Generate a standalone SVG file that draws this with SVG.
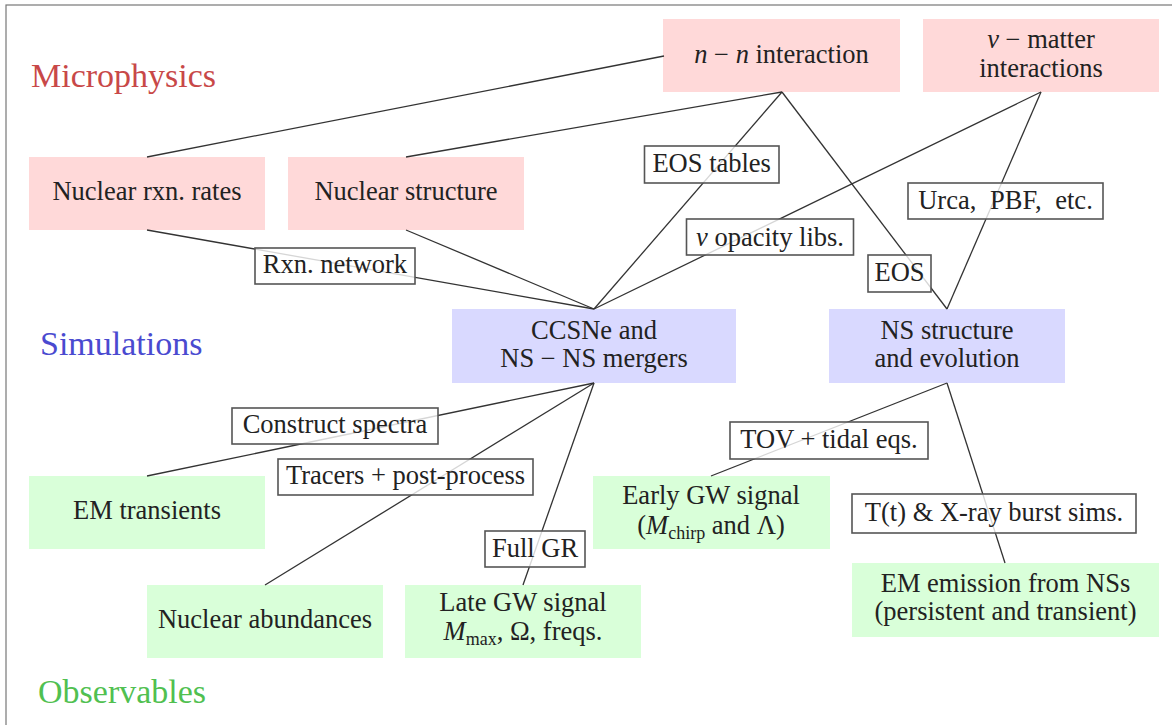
<svg xmlns="http://www.w3.org/2000/svg" width="1172" height="725" viewBox="0 0 1172 725">
<style>
text{font-size:26.5px;fill:#222;}
.t{text-anchor:middle;}
.title{font-size:34px;}
.pink{fill:#ffd9d9;}
.blue{fill:#d9d9ff;}
.green{fill:#d9ffd9;}
.lab rect{fill:#fff;fill-opacity:0.8;stroke:#555;stroke-width:1.6;}
.conn line{stroke:#333;stroke-width:1.3;}
.i{font-style:italic;}
.sub{font-size:18px;}
</style>
<g font-family="'Liberation Serif', 'DejaVu Serif', serif">
<rect x="6" y="5" width="1300" height="900" fill="#fff" stroke="#777" stroke-width="1.2"/>
<text x="31" y="87" class="title" style="fill:#c84848">Microphysics</text>
<text x="40" y="355" class="title" style="fill:#4a4ad0">Simulations</text>
<text x="38" y="703" class="title" style="fill:#50c050">Observables</text>

<g id="n-n"><rect class="pink" x="663" y="19" width="237" height="73"/><text class="t" x="781.5" y="63"><tspan class="i">n</tspan> − <tspan class="i">n</tspan> interaction</text></g>
<g id="nu-matter"><rect class="pink" x="923" y="19" width="236" height="73"/><text class="t" x="1041" y="48"><tspan class="i">ν</tspan> − matter</text><text class="t" x="1041" y="77">interactions</text></g>
<g id="rxn-rates"><rect class="pink" x="29" y="157" width="236" height="73"/><text class="t" x="147" y="200">Nuclear rxn. rates</text></g>
<g id="nuc-structure"><rect class="pink" x="288" y="157" width="236" height="73"/><text class="t" x="406" y="200">Nuclear structure</text></g>
<g id="ccsne"><rect class="blue" x="452" y="309" width="284" height="74"/><text class="t" x="594" y="339">CCSNe and</text><text class="t" x="594" y="367">NS − NS mergers</text></g>
<g id="ns-structure"><rect class="blue" x="829" y="309" width="236" height="74"/><text class="t" x="947" y="339">NS structure</text><text class="t" x="947" y="367">and evolution</text></g>
<g id="em-transients"><rect class="green" x="29" y="476" width="236" height="73"/><text class="t" x="147" y="519">EM transients</text></g>
<g id="nuc-abund"><rect class="green" x="147" y="585" width="236" height="73"/><text class="t" x="265" y="628">Nuclear abundances</text></g>
<g id="late-gw"><rect class="green" x="405" y="585" width="236" height="73"/><text class="t" x="523" y="611">Late GW signal</text><text class="t" x="523" y="640"><tspan class="i">M</tspan><tspan class="sub" baseline-shift="-5">max</tspan>, Ω, freqs.</text></g>
<g id="early-gw"><rect class="green" x="593" y="476" width="237" height="73"/><text class="t" x="711" y="504">Early GW signal</text><text class="t" x="711" y="534">(<tspan class="i">M</tspan><tspan class="sub" baseline-shift="-5">chirp</tspan> and Λ)</text></g>
<g id="em-emission"><rect class="green" x="852" y="563" width="307" height="74"/><text class="t" x="1005.5" y="592">EM emission from NSs</text><text class="t" x="1005.5" y="620">(persistent and transient)</text></g>

<g id="connectors" class="conn">
<line x1="664" y1="56" x2="147" y2="157"/>
<line x1="782" y1="92" x2="406" y2="157"/>
<line x1="782" y1="92" x2="594" y2="309"/>
<line x1="782" y1="92" x2="947" y2="309"/>
<line x1="1041" y1="92" x2="594" y2="309"/>
<line x1="1041" y1="92" x2="947" y2="309"/>
<line x1="147" y1="230" x2="594" y2="309"/>
<line x1="406" y1="230" x2="594" y2="309"/>
<line x1="594" y1="383" x2="147" y2="476"/>
<line x1="594" y1="383" x2="265" y2="585"/>
<line x1="594" y1="383" x2="523" y2="585"/>
<line x1="947" y1="383" x2="711" y2="476"/>
<line x1="947" y1="383" x2="1005" y2="563"/>
</g>

<g id="labels" class="lab">
<g id="lab-eos-tables"><rect x="644.5" y="146" width="134.5" height="37"/><text class="t" x="711.7" y="172">EOS tables</text></g>
<g id="lab-opacity"><rect x="686.5" y="219" width="167" height="36"/><text class="t" x="770" y="246"><tspan class="i">ν</tspan> opacity libs.</text></g>
<g id="lab-urca"><rect x="908" y="183" width="195" height="36"/><text class="t" x="1005.5" y="209" word-spacing="7">Urca, PBF, etc.</text></g>
<g id="lab-eos"><rect x="868" y="255" width="63" height="37"/><text class="t" x="899.5" y="281">EOS</text></g>
<g id="lab-rxn"><rect x="255" y="248" width="160" height="36"/><text class="t" x="335" y="273">Rxn. network</text></g>
<g id="lab-spectra"><rect x="232" y="408" width="206" height="36"/><text class="t" x="335" y="433">Construct spectra</text></g>
<g id="lab-tracers"><rect x="278" y="459" width="255" height="36"/><text class="t" x="405.5" y="484">Tracers + post-process</text></g>
<g id="lab-fullgr"><rect x="485" y="531" width="100" height="36"/><text class="t" x="535" y="557">Full GR</text></g>
<g id="lab-tov"><rect x="730" y="422" width="198" height="37"/><text class="t" x="829" y="448">TOV + tidal eqs.</text></g>
<g id="lab-xray"><rect x="852" y="494" width="284" height="39"/><text class="t" x="994" y="521">T(t) &amp; X-ray burst sims.</text></g>
</g>
</g>
</svg>
